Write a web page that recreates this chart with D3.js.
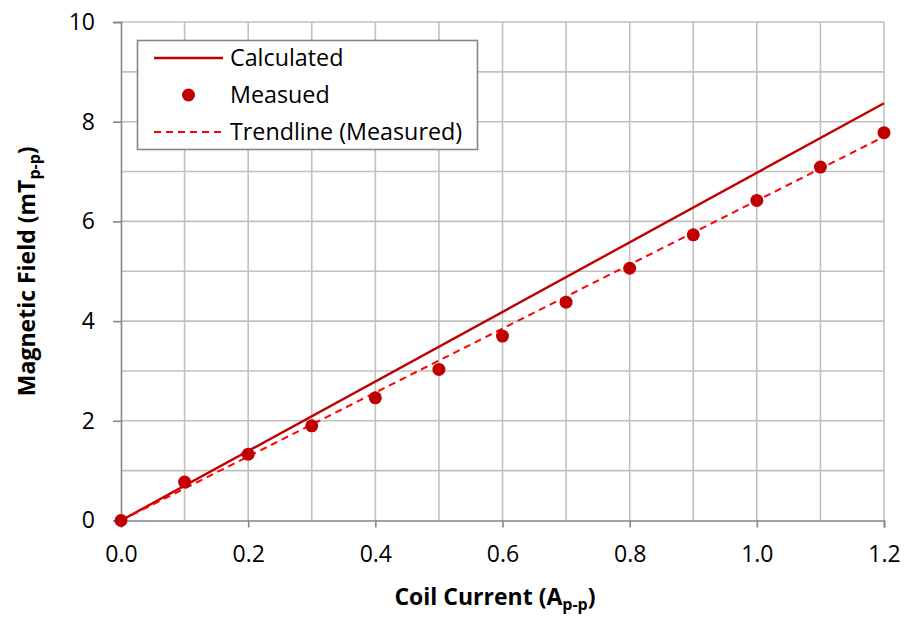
<!DOCTYPE html>
<html>
<head>
<meta charset="utf-8">
<script src="https://cdn.jsdelivr.net/npm/d3@7"></script>
<style>
  body { margin: 0; background: #fff; }
  svg text { font-family: "Open Sans", sans-serif; fill: #000; }
</style>
</head>
<body>
<svg id="chart" width="904" height="620"></svg>
<script>
// Data
const currents = [0.0, 0.1, 0.2, 0.3, 0.4, 0.5, 0.6, 0.7, 0.8, 0.9, 1.0, 1.1, 1.2];
const measured = [0.0, 0.77, 1.33, 1.90, 2.46, 3.03, 3.70, 4.38, 5.06, 5.73, 6.42, 7.09, 7.78];
const calculatedX = [0.0, 1.2];
const calculatedY = [0.0, 8.37];
const trendX = [0.0, 1.2];
const trendY = [0.0, 7.70];
const xTicks = [0.0, 0.2, 0.4, 0.6, 0.8, 1.0, 1.2];
const yTicks = [0, 2, 4, 6, 8, 10];
const xGrid = [0.1, 0.2, 0.3, 0.4, 0.5, 0.6, 0.7, 0.8, 0.9, 1.0, 1.1, 1.2];
const yGrid = [1, 2, 3, 4, 5, 6, 7, 8, 9, 10];
const legendLabels = ["Calculated", "Measued", "Trendline (Measured)"];

const svg = d3.select("#chart");
const x = d3.scaleLinear().domain([0, 1.2]).range([121, 884]);
const y = d3.scaleLinear().domain([0, 10]).range([520.5, 22]);

// Grid
svg.append("g").selectAll("line").data(xGrid).join("line")
  .attr("x1", d => x(d)).attr("x2", d => x(d))
  .attr("y1", y(0)).attr("y2", y(10))
  .attr("stroke", "#c0c0c0").attr("stroke-width", 1.6);
svg.append("g").selectAll("line").data(yGrid).join("line")
  .attr("x1", x(0)).attr("x2", x(1.2))
  .attr("y1", d => y(d)).attr("y2", d => y(d))
  .attr("stroke", "#c0c0c0").attr("stroke-width", 1.6);

// Axes
const xAxis = svg.append("g").attr("transform", `translate(0,${y(0)})`)
  .call(d3.axisBottom(x).tickValues(xTicks).tickFormat(d3.format(".1f")).tickSize(7).tickPadding(18));
const yAxis = svg.append("g").attr("transform", `translate(${x(0)},0)`)
  .call(d3.axisLeft(y).tickValues(yTicks).tickFormat(d3.format("d")).tickSize(8).tickPadding(18));
[xAxis, yAxis].forEach(a => {
  a.select(".domain").attr("stroke", "#868686").attr("stroke-width", 1.6);
  a.selectAll(".tick line").attr("stroke", "#868686").attr("stroke-width", 1.6);
  a.selectAll(".tick text").attr("font-size", 23).attr("font-family", "'Open Sans', sans-serif").attr("fill", "#000");
});

// Calculated line
const line = d3.line().x(d => x(d[0])).y(d => y(d[1]));
svg.append("path").datum(calculatedX.map((v, i) => [v, calculatedY[i]]))
  .attr("d", line).attr("fill", "none").attr("stroke", "#c00000").attr("stroke-width", 2.4);

// Trendline
svg.append("path").datum(trendX.map((v, i) => [v, trendY[i]]))
  .attr("d", line).attr("fill", "none").attr("stroke", "#ff0000").attr("stroke-width", 2)
  .attr("stroke-dasharray", "7,5");

// Measured points
svg.append("g").selectAll("circle").data(currents.map((c, i) => [c, measured[i]])).join("circle")
  .attr("cx", d => x(d[0])).attr("cy", d => y(d[1])).attr("r", 6.5).attr("fill", "#c00000");

// Legend
const lg = svg.append("g");
lg.append("rect").attr("x", 137.5).attr("y", 40.5).attr("width", 340).attr("height", 109)
  .attr("fill", "#fff").attr("stroke", "#868686").attr("stroke-width", 1.6);
const rows = [58, 95, 132];
lg.append("line").attr("x1", 154).attr("x2", 223).attr("y1", rows[0]).attr("y2", rows[0])
  .attr("stroke", "#c00000").attr("stroke-width", 2.4);
lg.append("circle").attr("cx", 188.5).attr("cy", rows[1]).attr("r", 6.5).attr("fill", "#c00000");
lg.append("line").attr("x1", 154).attr("x2", 223).attr("y1", rows[2]).attr("y2", rows[2])
  .attr("stroke", "#ff0000").attr("stroke-width", 2).attr("stroke-dasharray", "7,5");
lg.selectAll("text.lbl").data(legendLabels).join("text").attr("class", "lbl")
  .attr("x", 230).attr("y", (d, i) => rows[i]).attr("dy", "0.35em")
  .attr("font-size", 23.3).text(d => d);

// Axis titles
const xt = svg.append("text").attr("x", 495).attr("y", 605)
  .attr("text-anchor", "middle").attr("font-size", 23).attr("font-weight", "bold");
xt.append("tspan").text("Coil Current (A");
xt.append("tspan").attr("font-size", 16).attr("dy", 5).text("p-p");
xt.append("tspan").attr("dy", -5).text(")");

const yt = svg.append("text").attr("transform", `translate(35,${(y(0) + y(10)) / 2}) rotate(-90)`)
  .attr("text-anchor", "middle").attr("font-size", 23).attr("font-weight", "bold");
yt.append("tspan").text("Magnetic Field (mT");
yt.append("tspan").attr("font-size", 16).attr("dy", 5).text("p-p");
yt.append("tspan").attr("dy", -5).text(")");
</script>
</body>
</html>
